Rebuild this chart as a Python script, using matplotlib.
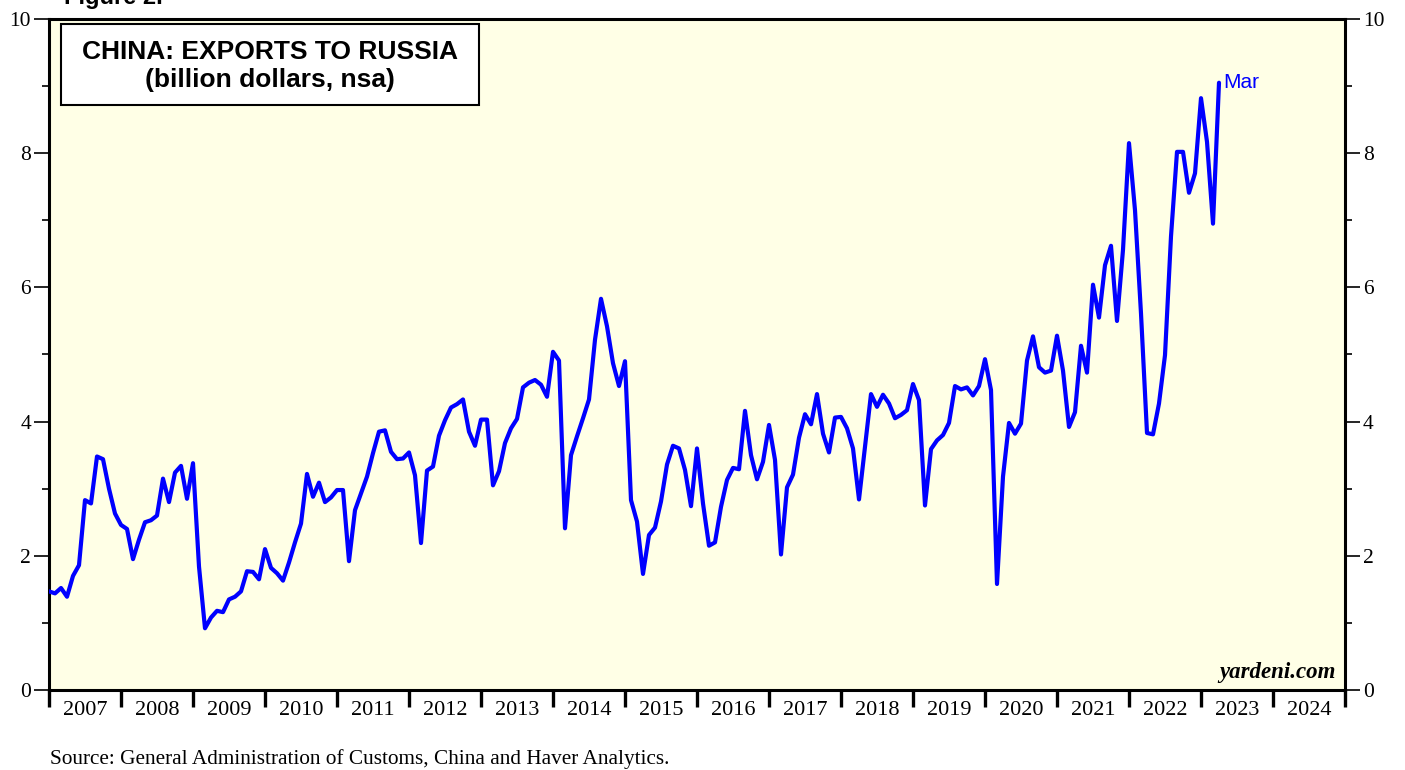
import matplotlib
matplotlib.use("Agg")
import matplotlib.pyplot as plt
from matplotlib.patches import Rectangle
from matplotlib.ticker import FixedLocator, NullFormatter
import pandas as pd

# China exports to Russia, billion dollars, nsa (monthly, Dec 2006 - Mar 2023)
months = pd.period_range("2006-12", "2023-03", freq="M")
exports = [
    1.47, 1.44, 1.52, 1.39, 1.70, 1.86, 2.83, 2.78, 3.48, 3.44, 3.00, 2.63,
    2.46, 2.40, 1.95, 2.24, 2.50, 2.53, 2.60, 3.15, 2.80, 3.24, 3.34, 2.85,
    3.38, 1.84, 0.92, 1.08, 1.18, 1.16, 1.35, 1.39, 1.47, 1.77, 1.76, 1.65,
    2.10, 1.82, 1.74, 1.63, 1.90, 2.20, 2.48, 3.22, 2.88, 3.09, 2.80, 2.87,
    2.98, 2.98, 1.92, 2.68, 2.93, 3.18, 3.53, 3.85, 3.87, 3.55, 3.44, 3.45,
    3.54, 3.20, 2.19, 3.27, 3.33, 3.79, 4.02, 4.21, 4.26, 4.33, 3.85, 3.64,
    4.03, 4.03, 3.05, 3.26, 3.68, 3.90, 4.04, 4.51, 4.58, 4.62, 4.55, 4.37,
    5.04, 4.91, 2.41, 3.50, 3.78, 4.05, 4.33, 5.22, 5.83, 5.42, 4.87, 4.53,
    4.90, 2.83, 2.51, 1.73, 2.31, 2.42, 2.81, 3.36, 3.64, 3.60, 3.28, 2.74,
    3.60, 2.78, 2.15, 2.20, 2.73, 3.13, 3.31, 3.29, 4.16, 3.50, 3.14, 3.40,
    3.95, 3.43, 2.02, 3.02, 3.21, 3.76, 4.11, 3.96, 4.41, 3.82, 3.54, 4.06,
    4.07, 3.90, 3.60, 2.84, 3.63, 4.41, 4.22, 4.40, 4.27, 4.05, 4.10, 4.17,
    4.56, 4.32, 2.75, 3.59, 3.72, 3.80, 3.98, 4.53, 4.48, 4.51, 4.39, 4.53,
    4.93, 4.47, 1.58, 3.18, 3.98, 3.82, 3.97, 4.91, 5.27, 4.81, 4.73, 4.76,
    5.28, 4.76, 3.92, 4.14, 5.13, 4.73, 6.04, 5.55, 6.33, 6.62, 5.50, 6.56,
    8.15, 7.15, 5.61, 3.83, 3.81, 4.27, 4.99, 6.76, 8.02, 8.02, 7.41, 7.70,
    8.82, 8.17, 6.95, 9.05,
]
years = list(range(2007, 2025))

# plot each month at its end (start of next month)
x = [p.year + p.month / 12 for p in months]

SERIF = ["Liberation Serif", "DejaVu Serif"]
SANS = ["Liberation Sans", "DejaVu Sans"]
W, H = 1405, 770

fig = plt.figure(figsize=(W / 100, H / 100), dpi=100)
ax = fig.add_axes([49 / W, 80 / H, 1296 / W, 671 / H])
ax.set_facecolor("#ffffe6")

ax.plot(x, exports, color="#0000ff", linewidth=3.0, solid_joinstyle="round",
        solid_capstyle="round", zorder=3)
ax.text(x[-1] + 0.06, exports[-1], "Mar", color="#0000ff", fontsize=15,
        family=SANS, ha="left", va="center")

ax.set_xlim(years[0], years[-1] + 1)
ax.set_ylim(0, 10)

for s in ax.spines.values():
    s.set_linewidth(2.2)

# y axis: labels every 2, minor ticks at odd values, both sides
ax.yaxis.set_major_locator(FixedLocator(range(0, 11, 2)))
ax.yaxis.set_minor_locator(FixedLocator(range(1, 10, 2)))
ax.tick_params(axis="y", which="major", direction="out", length=11, width=1.2,
               left=True, right=True, labelleft=True, labelright=True,
               labelsize=15.5, pad=2)
ax.tick_params(axis="y", which="minor", direction="out", length=5, width=1.2,
               left=True, right=True)

# x axis: year boundaries as ticks, labels centered in each year
ax.xaxis.set_major_locator(FixedLocator(years + [years[-1] + 1]))
ax.xaxis.set_major_formatter(NullFormatter())
ax.xaxis.set_minor_locator(FixedLocator([y + 0.5 for y in years]))
ax.xaxis.set_minor_formatter(plt.FixedFormatter([str(y) for y in years]))
ax.tick_params(axis="x", which="major", direction="out", length=12, width=2.4)
ax.tick_params(axis="x", which="minor", length=0, labelsize=16, pad=8)

for lab in ax.get_xticklabels(minor=True) + ax.yaxis.get_ticklabels():
    lab.set_family(SERIF)
for t in ax.yaxis.get_major_ticks():
    t.label2.set_family(SERIF)

# title box
fig.add_artist(Rectangle((61 / W, 1 - 105 / H), 418 / W, 81 / H,
                         transform=fig.transFigure, facecolor="white",
                         edgecolor="black", linewidth=1.5, zorder=5))
fig.text(270 / W, 1 - 52 / H, "CHINA: EXPORTS TO RUSSIA", ha="center",
         va="center", fontsize=19, fontweight="bold", family=SANS, zorder=6)
fig.text(270 / W, 1 - 80 / H, "(billion dollars, nsa)", ha="center",
         va="center", fontsize=19, fontweight="bold", family=SANS, zorder=6)

ax.text(0.9925, 0.01, "yardeni.com", transform=ax.transAxes, ha="right",
        va="bottom", fontsize=16.5, fontweight="bold", fontstyle="italic",
        family=SERIF)

fig.text(64 / W, 1 - 4 / H, "Figure 2.", ha="left", va="baseline",
         fontsize=17, fontweight="bold", family=SANS)
fig.text(50 / W, 1 - 759 / H, "Source: General Administration of Customs, China and Haver Analytics.",
         ha="left", va="center", fontsize=15.3, family=SERIF)

fig.savefig("out.png", dpi=100)
